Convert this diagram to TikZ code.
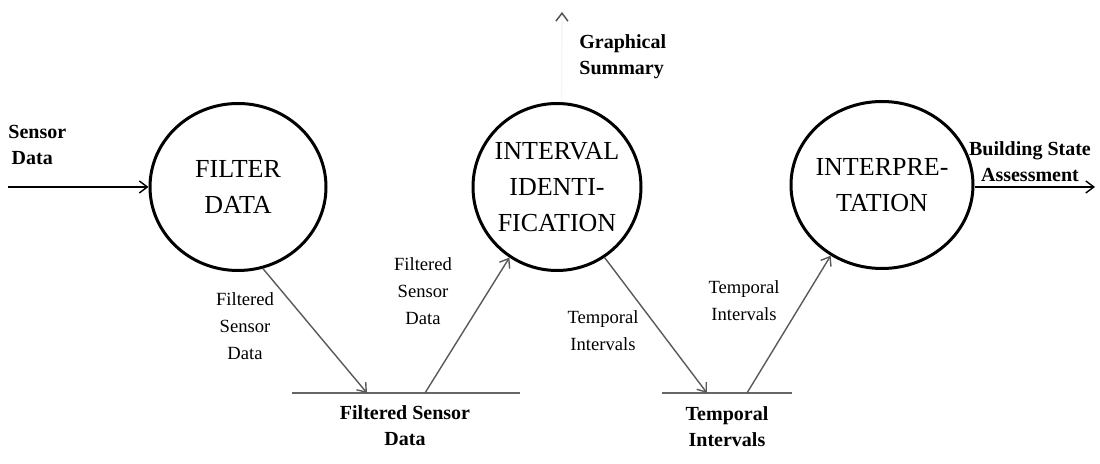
\documentclass[tikz,border=0pt]{standalone}
\usepackage{fontspec}
\setmainfont{Liberation Serif}
\usetikzlibrary{positioning, arrows.meta, shapes.geometric}

\begin{document}
\begin{tikzpicture}[
  x=0.5pt, y=-0.5pt,
  proc/.style={draw, ellipse, line width=1.5pt, inner sep=-4pt, align=center,
    minimum height=83.5pt, font=\fontsize{13}{18}\selectfont},
  flow/.style={-{Straight Barb[length=4pt, width=6pt]}, line width=0.7pt},
  dflow/.style={flow, black!65},
  storeline/.style={line width=1.2pt, black!60},
  lbl/.style={align=center, inner sep=0pt, font=\fontsize{9.3}{13.5}\selectfont},
  extlbl/.style={lbl, font=\fontsize{10}{13}\selectfont\bfseries},
]
\useasboundingbox (0,0) rectangle (1100,464);

% Processes
\node[proc, minimum width=88pt] (filter) at (238,187) {FILTER\\DATA};
\node[proc, minimum width=84pt] (ident) at (557,187) {INTERVAL\\IDENTI-\\FICATION};
\node[proc, minimum width=91pt] (interp) at (882,185) {INTERPRE-\\TATION};

% Data stores
\coordinate (fs w) at (292,393);
\coordinate (fs e) at (520,393);
\coordinate (fs in) at (367,393);
\coordinate (fs out) at (425,393);
\draw[storeline] (fs w) -- (fs e);
\node[extlbl] (fstore) at (405,426) {Filtered Sensor\\Data};

\coordinate (ts w) at (662,393);
\coordinate (ts e) at (792,393);
\coordinate (ts in) at (707,393);
\coordinate (ts out) at (747,393);
\draw[storeline] (ts w) -- (ts e);
\node[extlbl] (tstore) at (727,427) {Temporal\\Intervals};

% External inputs and outputs
\coordinate (src) at (8,187);
\coordinate (sink) at (1095,187);
\coordinate (gsum) at (562,12);
\draw[flow] (src) -- (filter.west);
\draw[flow] (interp.east |- sink) -- (sink);
\draw[flow, black!4, -{Straight Barb[length=4pt, width=6pt, color=black!70]}] (ident.87) -- (gsum);

\node[extlbl, align=left, anchor=west] (sensorlbl) at (8,145) {Sensor\\\,Data};
\node[extlbl] (bsalbl) at (1030,162) {Building State\\Assessment};
\node[extlbl, align=left, anchor=west] (gslbl) at (579,57) {Graphical\\Summary};

% Data flows
\draw[dflow] (filter.-73) -- (fs in);
\draw[dflow] (fs out) -- (ident.236);
\draw[dflow] (ident.-56) -- (ts in);
\draw[dflow] (ts out) -- (interp.234);

\node[lbl] (f1lbl) at (245,326) {Filtered\\Sensor\\Data};
\node[lbl] (f2lbl) at (423,291) {Filtered\\Sensor\\Data};
\node[lbl] (t1lbl) at (603,331) {Temporal\\Intervals};
\node[lbl] (t2lbl) at (744,301) {Temporal\\Intervals};
\end{tikzpicture}
\end{document}
